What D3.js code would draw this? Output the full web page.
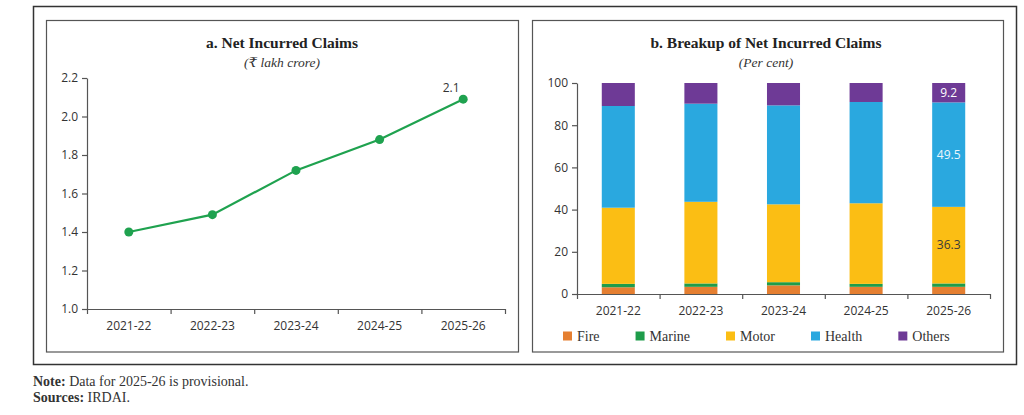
<!DOCTYPE html>
<html>
<head>
<meta charset="utf-8">
<script src="https://cdn.jsdelivr.net/npm/d3@7"></script>
<style>
  html, body { margin: 0; padding: 0; background: #fff; }
  svg { display: block; }
</style>
</head>
<body>
<svg id="chart" width="1024" height="415"></svg>
<script>
// ---------- DATA ----------
const years = ["2021-22", "2022-23", "2023-24", "2024-25", "2025-26"];
const netClaims = [1.40, 1.49, 1.72, 1.88, 2.09];
const netClaimsTicks = [1.0, 1.2, 1.4, 1.6, 1.8, 2.0, 2.2];

const segments = ["Fire", "Marine", "Motor", "Health", "Others"];
const fireShare   = [3.2, 3.4, 4.1, 3.4, 3.4];
const marineShare = [1.6, 1.6, 1.5, 1.4, 1.6];
const motorShare  = [36.1, 38.7, 36.9, 38.2, 36.3];
const healthShare = [48.2, 46.5, 46.9, 48.0, 49.5];
const othersShare = [10.9, 9.8, 10.6, 9.0, 9.2];
const shareTicks = [0, 20, 40, 60, 80, 100];

const segColors = ["#E57F31", "#1E9C4A", "#FBBE14", "#2AA8DF", "#6E3A96"];
const lineColor = "#1FA24F";

// ---------- SETUP ----------
const svg = d3.select("#chart");
const serif = "'Liberation Serif', 'DejaVu Serif', serif";
const sans = "'Open Sans', 'Noto Sans', sans-serif";
const axisColor = "#555";
const textColor = "#333";

svg.append("rect").attr("width", 1024).attr("height", 415).attr("fill", "#fff");

// outer frame
svg.append("rect").attr("x", 33.5).attr("y", 6.5).attr("width", 983).attr("height", 358)
  .attr("fill", "none").attr("stroke", "#333").attr("stroke-width", 1.5);
// panels
svg.append("rect").attr("x", 46.5).attr("y", 20.5).attr("width", 472).attr("height", 331.5)
  .attr("fill", "none").attr("stroke", "#555").attr("stroke-width", 1.2);
svg.append("rect").attr("x", 532.5).attr("y", 20.5).attr("width", 471).attr("height", 331.5)
  .attr("fill", "none").attr("stroke", "#555").attr("stroke-width", 1.2);

function styleAxis(g) {
  g.selectAll("path").attr("stroke", axisColor).attr("stroke-width", 1.2);
  g.selectAll("line").attr("stroke", axisColor).attr("stroke-width", 1.2);
  g.selectAll("text").attr("fill", textColor).style("font-family", sans).style("font-size", "12px");
}

function titles(cx, title, sub) {
  svg.append("text").attr("x", cx).attr("y", 48).attr("text-anchor", "middle")
    .style("font-family", serif).style("font-weight", "bold").style("font-size", "15.5px")
    .attr("fill", "#222").text(title);
  svg.append("text").attr("x", cx).attr("y", 67).attr("text-anchor", "middle")
    .style("font-family", serif).style("font-style", "italic").style("font-size", "13.5px")
    .attr("fill", "#333").text(sub);
}

// ---------- CHART A ----------
titles(282, "a. Net Incurred Claims", "(₹ lakh crore)");
{
  const left = 87, right = 505, top = 78, bottom = 309;
  const x = d3.scaleBand().domain(years).range([left, right]).padding(0);
  const y = d3.scaleLinear().domain([1.0, 2.2]).range([bottom, top]);

  const yAxis = svg.append("g").attr("transform", `translate(${left},0)`)
    .call(d3.axisLeft(y).tickValues(netClaimsTicks).tickFormat(d3.format(".1f")).tickSize(5).tickSizeOuter(0).tickPadding(4));
  styleAxis(yAxis);

  const xEdges = d3.scaleLinear().domain([0, years.length]).range([left, right]);
  const xTicks = svg.append("g").attr("transform", `translate(0,${bottom})`)
    .call(d3.axisBottom(xEdges).tickValues(d3.range(years.length + 1)).tickFormat("").tickSize(5).tickSizeOuter(0));
  styleAxis(xTicks);
  const xLabels = svg.append("g").attr("transform", `translate(0,${bottom})`)
    .call(d3.axisBottom(x).tickSize(0).tickPadding(12));
  xLabels.select(".domain").remove();
  styleAxis(xLabels);

  const cx = (d, i) => x(years[i]) + x.bandwidth() / 2;
  const line = d3.line().x((d, i) => cx(d, i)).y(d => y(d));
  svg.append("path").datum(netClaims).attr("d", line)
    .attr("fill", "none").attr("stroke", lineColor).attr("stroke-width", 2.2);
  svg.selectAll(".pt").data(netClaims).enter().append("circle")
    .attr("cx", cx).attr("cy", d => y(d)).attr("r", 4.5).attr("fill", lineColor);

  const last = netClaims.length - 1;
  svg.append("text").attr("x", cx(netClaims[last], last) - 12).attr("y", y(netClaims[last]) - 7)
    .attr("text-anchor", "middle").style("font-family", sans).style("font-size", "12px")
    .attr("fill", textColor).text(d3.format(".1f")(netClaims[last]));
}

// ---------- CHART B ----------
titles(766, "b. Breakup of Net Incurred Claims", "(Per cent)");
{
  const left = 577, right = 990, top = 83, bottom = 294;
  const x = d3.scaleBand().domain(years).range([left, right]).padding(0);
  const y = d3.scaleLinear().domain([0, 100]).range([bottom, top]);
  const barW = x.bandwidth() * 0.4;

  const series = [fireShare, marineShare, motorShare, healthShare, othersShare];
  const rows = years.map((yr, i) => {
    const r = { year: yr };
    segments.forEach((s, j) => r[s] = series[j][i]);
    return r;
  });
  const stacked = d3.stack().keys(segments)(rows);

  stacked.forEach((layer, j) => {
    svg.append("g").selectAll("rect").data(layer).enter().append("rect")
      .attr("x", d => x(d.data.year) + (x.bandwidth() - barW) / 2)
      .attr("width", barW)
      .attr("y", d => y(d[1]))
      .attr("height", d => y(d[0]) - y(d[1]))
      .attr("fill", segColors[j]);
  });

  const yAxis = svg.append("g").attr("transform", `translate(${left},0)`)
    .call(d3.axisLeft(y).tickValues(shareTicks).tickSize(5).tickSizeOuter(0).tickPadding(4));
  styleAxis(yAxis);

  const xEdges = d3.scaleLinear().domain([0, years.length]).range([left, right]);
  const xTicks = svg.append("g").attr("transform", `translate(0,${bottom})`)
    .call(d3.axisBottom(xEdges).tickValues(d3.range(years.length + 1)).tickFormat("").tickSize(5).tickSizeOuter(0));
  styleAxis(xTicks);
  const xLabels = svg.append("g").attr("transform", `translate(0,${bottom})`)
    .call(d3.axisBottom(x).tickSize(0).tickPadding(12));
  xLabels.select(".domain").remove();
  styleAxis(xLabels);

  // labels on last bar
  const lastIdx = years.length - 1;
  const labelSegs = [
    { j: 2, color: "#3a3a3a" },
    { j: 3, color: "#eaf6fc" },
    { j: 4, color: "#ffffff" }
  ];
  labelSegs.forEach(ls => {
    const d = stacked[ls.j][lastIdx];
    svg.append("text")
      .attr("x", x(years[lastIdx]) + x.bandwidth() / 2)
      .attr("y", (y(d[0]) + y(d[1])) / 2)
      .attr("dy", "0.35em").attr("text-anchor", "middle")
      .style("font-family", sans).style("font-size", "12px")
      .attr("fill", ls.color).text(d3.format(".1f")(d[1] - d[0]));
  });

  // legend
  const lg = svg.append("g").attr("transform", "translate(563,336)");
  let lx = 0;
  segments.forEach((s, j) => {
    const g = lg.append("g").attr("transform", `translate(${lx},0)`);
    g.append("rect").attr("x", 0).attr("y", -4.5).attr("width", 9).attr("height", 9).attr("fill", segColors[j]);
    const t = g.append("text").attr("x", 14).attr("y", 0).attr("dy", "0.35em")
      .style("font-family", serif).style("font-size", "14px").attr("fill", textColor).text(s);
    lx += 14 + t.node().getComputedTextLength() + 36;
  });
}

// ---------- FOOTNOTES ----------
const note = svg.append("text").attr("x", 33).attr("y", 386)
  .style("font-family", serif).style("font-size", "14px").attr("fill", "#333");
note.append("tspan").style("font-weight", "bold").text("Note:");
note.append("tspan").text(" Data for 2025-26 is provisional.");
const src = svg.append("text").attr("x", 33).attr("y", 402)
  .style("font-family", serif).style("font-size", "14px").attr("fill", "#333");
src.append("tspan").style("font-weight", "bold").text("Sources:");
src.append("tspan").text(" IRDAI.");
</script>
</body>
</html>
